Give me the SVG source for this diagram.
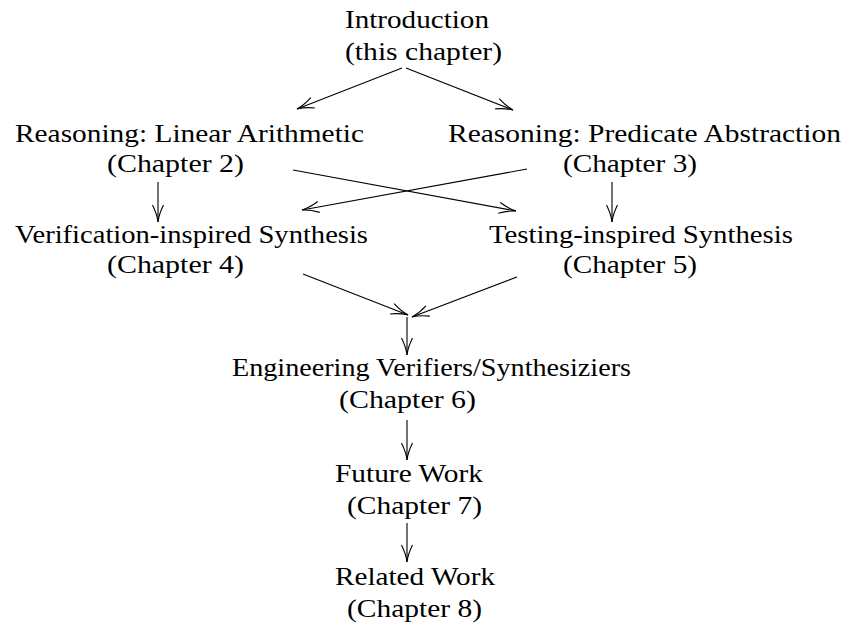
<svg xmlns="http://www.w3.org/2000/svg" width="848" height="623" viewBox="0 0 848 623">
<defs>
<style>
text{font-family:"Liberation Serif","Times New Roman",serif;font-size:26px;fill:#000}
.c line{stroke:#000;stroke-width:1.1;fill:none;marker-end:url(#ah)}
</style>
<marker id="ah" markerUnits="userSpaceOnUse" markerWidth="20" markerHeight="14" viewBox="-18 -7 20 14" refX="0" refY="0" orient="auto" overflow="visible">
<path d="M-17,-5.5 Q-8,-1 0,0 Q-8,1 -17,5.5" fill="none" stroke="#000" stroke-width="1.1"/>
</marker>
</defs>
<rect width="848" height="623" fill="#fff"/>
<g id="intro">
<text x="345" y="28" textLength="144" lengthAdjust="spacingAndGlyphs">Introduction</text>
<text x="345" y="60" textLength="157" lengthAdjust="spacingAndGlyphs">(this chapter)</text>
</g>
<g id="ch2">
<text x="15" y="142" textLength="349" lengthAdjust="spacingAndGlyphs">Reasoning: Linear Arithmetic</text>
<text x="107" y="172" textLength="137" lengthAdjust="spacingAndGlyphs">(Chapter 2)</text>
</g>
<g id="ch3">
<text x="448" y="142" textLength="393" lengthAdjust="spacingAndGlyphs">Reasoning: Predicate Abstraction</text>
<text x="563" y="172" textLength="134" lengthAdjust="spacingAndGlyphs">(Chapter 3)</text>
</g>
<g id="ch4">
<text x="15" y="243" textLength="353" lengthAdjust="spacingAndGlyphs">Verification-inspired Synthesis</text>
<text x="107" y="273" textLength="137" lengthAdjust="spacingAndGlyphs">(Chapter 4)</text>
</g>
<g id="ch5">
<text x="489" y="243" textLength="304" lengthAdjust="spacingAndGlyphs">Testing-inspired Synthesis</text>
<text x="563" y="273" textLength="134" lengthAdjust="spacingAndGlyphs">(Chapter 5)</text>
</g>
<g id="ch6">
<text x="232" y="376" textLength="399" lengthAdjust="spacingAndGlyphs">Engineering Verifiers/Synthesiziers</text>
<text x="339" y="408" textLength="137" lengthAdjust="spacingAndGlyphs">(Chapter 6)</text>
</g>
<g id="ch7">
<text x="335" y="482" textLength="148" lengthAdjust="spacingAndGlyphs">Future Work</text>
<text x="347" y="514" textLength="135" lengthAdjust="spacingAndGlyphs">(Chapter 7)</text>
</g>
<g id="ch8">
<text x="335" y="585" textLength="160" lengthAdjust="spacingAndGlyphs">Related Work</text>
<text x="347" y="617" textLength="135" lengthAdjust="spacingAndGlyphs">(Chapter 8)</text>
</g>
<g id="connectors" class="c">
<line x1="402" y1="68" x2="297" y2="109"/>
<line x1="406" y1="68" x2="513" y2="110"/>
<line x1="158" y1="182" x2="158" y2="222"/>
<line x1="612" y1="182" x2="612" y2="222"/>
<line x1="293" y1="170" x2="516" y2="211"/>
<line x1="527" y1="169" x2="302" y2="210"/>
<line x1="303" y1="274" x2="408" y2="315"/>
<line x1="517" y1="277" x2="412" y2="317"/>
<line x1="407" y1="317" x2="407" y2="355"/>
<line x1="407" y1="420" x2="407" y2="460"/>
<line x1="407" y1="523" x2="407" y2="562"/>
</g>
</svg>
